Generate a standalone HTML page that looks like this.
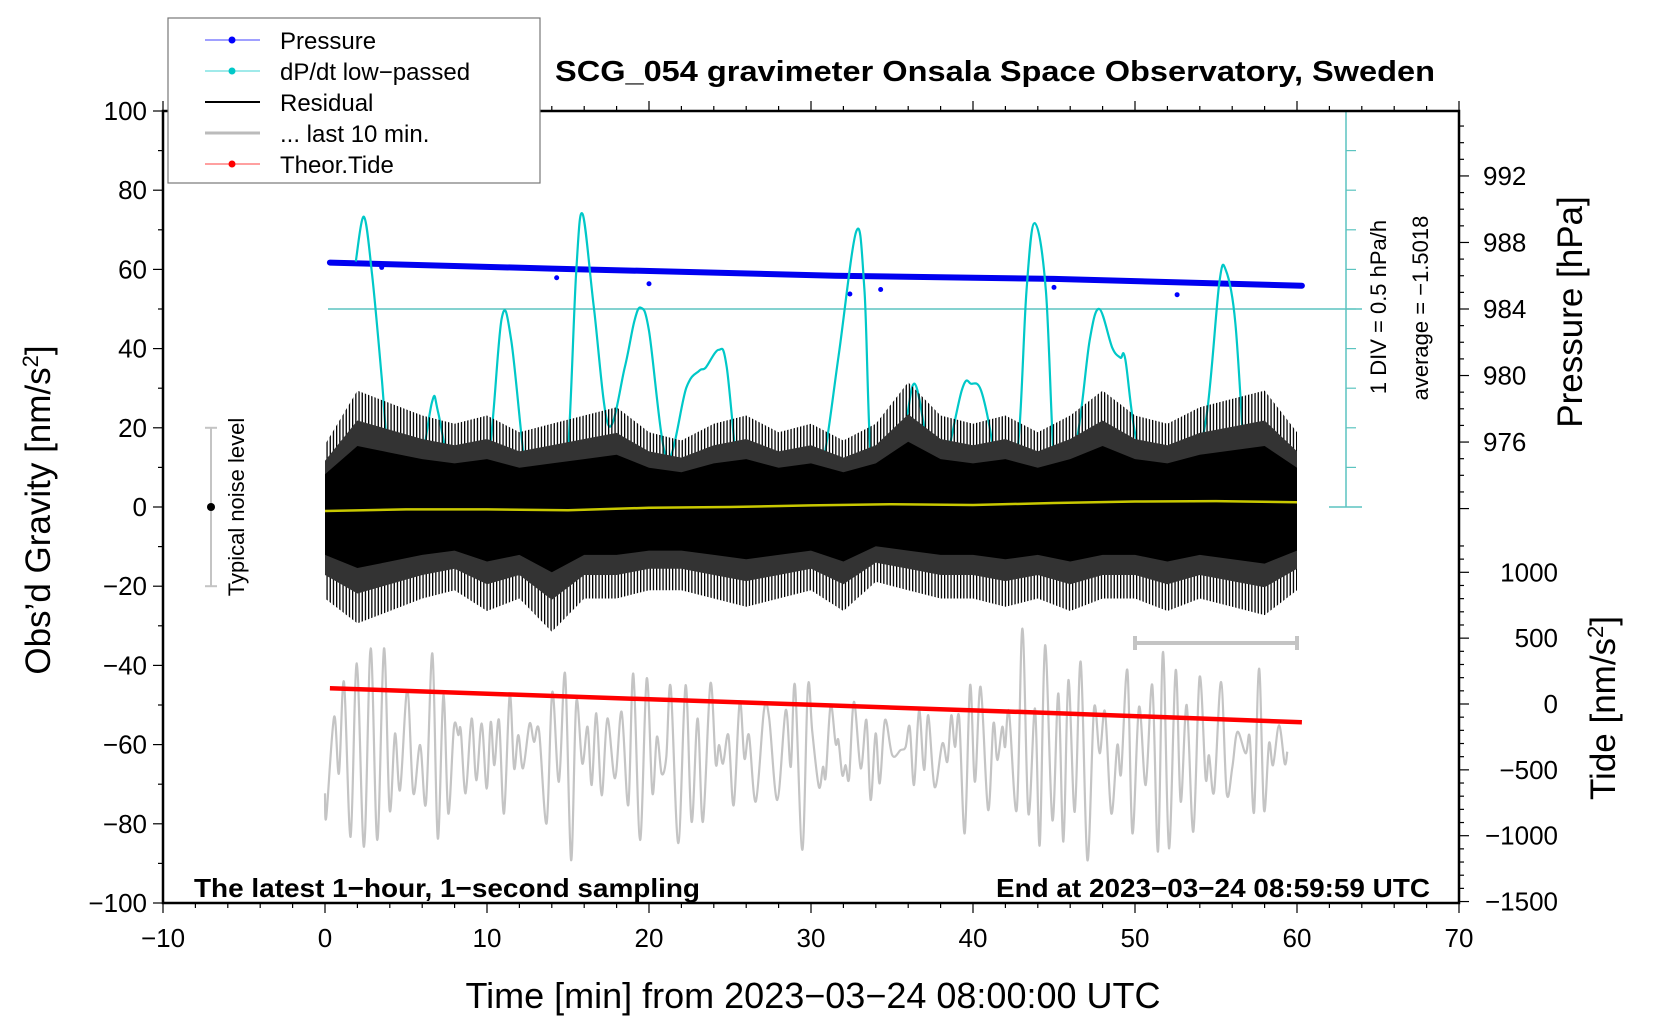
<!DOCTYPE html>
<html><head><meta charset="utf-8"><style>
html,body{margin:0;padding:0;background:#fff}
svg{display:block;font-family:"Liberation Sans",sans-serif}
</style></head><body>
<svg id="chart" width="1660" height="1020" viewBox="0 0 1660 1020" xmlns="http://www.w3.org/2000/svg">
<defs>
<pattern id="stripes" width="3.2" height="10" patternUnits="userSpaceOnUse">
<rect x="0" y="0" width="1.3" height="10" fill="#000"/>
</pattern>
</defs>
<g id="marks"></g>
<g id="axes"></g>
<g id="texts">
<text x="995" y="81" font-size="29" font-weight="bold" text-anchor="middle" textLength="880" lengthAdjust="spacingAndGlyphs">SCG_054 gravimeter Onsala Space Observatory, Sweden</text>
<text x="813" y="1008" font-size="36" text-anchor="middle">Time [min] from 2023−03−24 08:00:00 UTC</text>
<text transform="translate(50,510) rotate(-90)" font-size="35" text-anchor="middle">Obs’d Gravity [nm/s<tspan font-size="22" dy="-12">2</tspan><tspan dy="12">]</tspan></text>
<text transform="translate(1582,312) rotate(-90)" font-size="35" text-anchor="middle">Pressure [hPa]</text>
<text transform="translate(1615,708) rotate(-90)" font-size="35" text-anchor="middle">Tide [nm/s<tspan font-size="22" dy="-12">2</tspan><tspan dy="12">]</tspan></text>
<text transform="translate(1386,307) rotate(-90)" font-size="22" text-anchor="middle">1 DIV = 0.5 hPa/h</text>
<text transform="translate(1428,308) rotate(-90)" font-size="22" text-anchor="middle">average = −1.5018</text>
<text transform="translate(244,507) rotate(-90)" font-size="22" text-anchor="middle">Typical noise level</text>
<text x="194" y="897" font-size="26" font-weight="bold" textLength="506" lengthAdjust="spacingAndGlyphs">The latest 1−hour, 1−second sampling</text>
<text x="1430" y="897" font-size="26" font-weight="bold" text-anchor="end" textLength="434" lengthAdjust="spacingAndGlyphs">End at 2023−03−24 08:59:59 UTC</text>
</g>
<g id="legend">
<rect x="168" y="18" width="372" height="165" fill="#fff" stroke="#777" stroke-width="1.2"/>
<g><line x1="205" y1="40" x2="260" y2="40" stroke="#00f" stroke-width="0.8"/><circle cx="232" cy="40" r="3.5" fill="#00f"/><text x="280" y="49" font-size="24">Pressure</text></g>
<g><line x1="205" y1="71" x2="260" y2="71" stroke="#00c8c8" stroke-width="0.8"/><circle cx="232" cy="71" r="3.5" fill="#00c8c8"/><text x="280" y="80" font-size="24">dP/dt low−passed</text></g>
<g><line x1="205" y1="102" x2="260" y2="102" stroke="#000" stroke-width="2"/><text x="280" y="111" font-size="24">Residual</text></g>
<g><line x1="205" y1="133" x2="260" y2="133" stroke="#bbb" stroke-width="3"/><text x="280" y="142" font-size="24">... last 10 min.</text></g>
<g><line x1="205" y1="164" x2="260" y2="164" stroke="#f00" stroke-width="0.8"/><circle cx="232" cy="164" r="3.5" fill="#f00"/><text x="280" y="173" font-size="24">Theor.Tide</text></g>
</g>
</svg>
<script>
// ---- data ----
const xTicks = [-10,0,10,20,30,40,50,60,70];
const yTicks = [-100,-80,-60,-40,-20,0,20,40,60,80,100];
const pTicks = [976,980,984,988,992];
const tideTicks = [-1500,-1000,-500,0,500,1000];
const pressT = [0.3,14,31.5,45,60.3];
const pressV = [986.79,986.43,986.0,985.81,985.40];
const pressOutT = [14.3,20.0,32.4,34.3,52.6,45.0,3.5];
const pressOutV = [985.88,985.52,984.9,985.17,984.86,985.3,986.5];
const dpT = [1.9,2.4,2.9,3.5,4.1,5.0,5.7,6.6,7.0,8.1,9.0,10.1,10.9,11.5,12.4,13.0,14.0,14.9,15.5,15.9,16.6,17.5,18.5,19.1,19.5,20.0,21.1,22.3,23.1,23.5,24.3,24.8,25.7,26.5,27.3,27.9,28.9,30.0,30.7,31.7,32.8,33.3,33.9,35.6,36.4,37.3,37.9,39.3,39.9,40.5,41.2,41.5,42.7,43.3,43.8,44.5,45.2,46.4,47.2,47.8,48.6,49.1,49.4,50.1,51.5,53.3,54.4,55.2,55.6,56.2,56.8];
const dpV = [62,73.3,58.9,32.7,4.2,0,4.2,26.4,23.6,0.9,3,12.5,47.5,42,8.4,2.4,2,8.4,58.9,74,50.3,20.6,35.2,47,50.3,44.5,12.2,30.1,34.4,35.2,39.7,35.2,1.6,5,11,13,6.7,8,10,38,69.7,54.6,4.2,16.8,31.1,12.5,4.2,29.4,31.1,29.4,16,1.6,12.5,54.6,71.7,54.6,1.6,16.8,42,50,40.2,37.7,37.3,16.8,3,6.7,22.6,56.4,59.9,46.3,7.4];
const resT = [0,2,4,6,8,10,12,14,16,18,20,22,24,26,28,30,32,34,36,38,40,42,44,46,48,50,52,54,56,58,60];
const resUpper = [15,28,25,22,20,22,18,20,22,24,18,16,20,22,18,20,16,20,30,22,20,22,18,22,28,22,20,24,26,28,18];
const resLower = [-22,-28,-25,-22,-20,-25,-22,-30,-22,-22,-20,-20,-22,-24,-22,-20,-25,-18,-20,-22,-22,-24,-22,-25,-22,-22,-25,-22,-24,-26,-20];
const yelT = [0,5,10,15,20,25,30,35,40,45,50,55,60];
const yelV = [-1,-0.6,-0.6,-0.8,-0.2,0,0.4,0.7,0.5,1,1.4,1.5,1.2];
const grayT = [0.0,0.08,0.56,0.86,1.17,1.58,1.96,2.41,2.82,3.23,
3.64,3.99,4.32,4.63,5.08,5.45,5.87,6.23,6.63,6.96,
7.31,7.61,7.96,8.23,8.38,8.68,9.05,9.34,9.67,9.98,
10.23,10.45,10.74,11.05,11.40,11.67,11.93,12.22,12.63,12.90,
13.21,13.68,14.03,14.44,14.82,15.19,15.51,15.88,16.21,16.46,
16.75,17.08,17.43,17.90,18.31,18.72,19.03,19.45,19.86,20.21,
20.49,20.78,21.07,21.34,21.81,22.26,22.63,23.00,23.33,23.79,
24.12,24.32,24.57,24.90,25.23,25.60,25.89,26.17,26.59,27.10,
27.41,27.92,28.44,28.75,29.01,29.46,29.81,30.08,30.49,30.74,
30.91,31.21,31.52,31.69,31.93,32.14,32.35,32.65,33.07,33.42,
33.68,33.99,34.24,34.57,35.02,35.53,35.84,36.09,36.36,36.67,
36.98,37.24,37.63,38.11,38.42,38.66,38.89,39.14,39.49,39.82,
40.12,40.47,40.93,41.26,41.50,41.81,41.98,42.22,42.70,43.05,
43.42,43.83,44.12,44.45,44.90,45.27,45.58,45.89,46.28,46.65,
47.06,47.47,47.82,48.15,48.54,48.91,49.14,49.53,49.84,50.25,
50.66,51.07,51.42,51.73,52.10,52.51,52.82,53.19,53.60,53.99,
54.36,54.57,54.88,55.31,55.66,56.01,56.32,56.83,57.08,57.35,
57.66,57.96,58.27,58.52,58.89,59.24,59.40];
const grayV = [-72.3,-78.2,-53.0,-67.3,-44.2,-83.3,-39.5,-85.8,-35.7,-84.1,
-35.7,-76.5,-57.2,-71.5,-46.3,-72.3,-60.1,-74.9,-37.0,-83.7,
-47.5,-77.4,-55.5,-57.6,-56.4,-72.3,-53.4,-69.0,-54.7,-71.1,
-54.3,-65.2,-53.8,-77.4,-47.5,-66.0,-57.6,-66.0,-54.7,-59.3,
-56.4,-79.9,-46.7,-69.4,-42.1,-89.2,-49.2,-64.8,-55.5,-70.2,
-52.1,-72.8,-53.4,-68.5,-51.7,-75.3,-42.1,-84.1,-43.3,-72.3,
-58.0,-67.3,-63.1,-45.4,-84.9,-45.0,-79.5,-53.4,-79.5,-44.6,
-64.8,-60.1,-64.8,-57.6,-75.3,-49.2,-63.5,-57.6,-74.4,-51.3,
-53.0,-74.0,-51.3,-65.6,-45.0,-86.6,-45.4,-56.8,-70.7,-65.6,
-68.1,-50.0,-59.7,-58.9,-67.7,-65.2,-68.5,-49.2,-66.0,-53.8,
-74.0,-57.2,-69.8,-53.8,-62.7,-61.4,-60.6,-55.5,-70.2,-51.3,
-66.4,-52.6,-70.7,-59.7,-64.3,-52.6,-60.6,-53.0,-82.4,-45.0,
-69.4,-45.4,-76.5,-54.7,-63.9,-55.5,-60.6,-51.7,-76.5,-30.7,
-77.4,-50.9,-85.4,-34.9,-79.1,-47.1,-84.5,-43.7,-77.0,-39.1,
-89.2,-50.9,-62.2,-51.7,-77.4,-60.1,-67.3,-41.2,-82.4,-50.5,
-70.2,-45.0,-87.0,-36.6,-86.2,-41.2,-74.4,-50.0,-82.0,-42.9,
-68.5,-62.7,-71.9,-44.2,-72.3,-65.6,-56.8,-62.2,-58.0,-77.0,
-40.8,-76.5,-59.7,-65.2,-55.1,-64.8,-61.8];
const tideT = [0.3,15,30,45,60.3];
const tideV = [120,57,-6,-69,-139];

// ---- scales ----
const X = t => 325 + t*16.2;
const G = g => 903 - (g+100)*3.96;
const P = p => G(50 + (p-984)*4.2);
const TD = v => 704 - v*0.1317;

const NS = 'http://www.w3.org/2000/svg';
const marks = document.getElementById('marks');
const axes = document.getElementById('axes');
function mk(parent, tag, attrs){ const e=document.createElementNS(NS,tag); for(const k in attrs) e.setAttribute(k,attrs[k]); parent.appendChild(e); return e; }
function line(parent,x1,y1,x2,y2,stroke,w){ return mk(parent,'line',{x1,y1,x2,y2,stroke,'stroke-width':w}); }
function smooth(xs, ys){
  let s='M'+xs[0].toFixed(1)+' '+ys[0].toFixed(1);
  for(let i=0;i<xs.length-1;i++){
    const x0=xs[Math.max(i-1,0)], y0=ys[Math.max(i-1,0)], x1=xs[i], y1=ys[i], x2=xs[i+1], y2=ys[i+1];
    const x3=xs[Math.min(i+2,xs.length-1)], y3=ys[Math.min(i+2,xs.length-1)];
    s+=' C'+(x1+(x2-x0)/6).toFixed(1)+' '+(y1+(y2-y0)/6).toFixed(1)+' '+(x2-(x3-x1)/6).toFixed(1)+' '+(y2-(y3-y1)/6).toFixed(1)+' '+x2.toFixed(1)+' '+y2.toFixed(1);
  }
  return s;
}

let d = pressT.map((t,i)=>(i?'L':'M')+X(t).toFixed(1)+' '+P(pressV[i]).toFixed(1)).join(' ');
let e = mk(marks,'path',{d,fill:'none',stroke:'#0000f0','stroke-width':6,'stroke-linecap':'round'});


pressOutT.forEach((t,i)=>{
  const c = mk(marks,'circle',{cx:X(t),cy:P(pressOutV[i]),r:2.5,fill:'#00f'});
  
  
});

e = line(marks, X(0)+3, G(50), 1362, G(50), '#5cc4c0', 1.5);


const sc = mk(marks,'g',{});


line(sc,1346,G(100),1346,G(0),'#5cc4c0',1.5);
line(sc,1329,G(100),1362,G(100),'#5cc4c0',1.5);
line(sc,1329,G(0),1362,G(0),'#5cc4c0',1.5);
for(let g=10; g<100; g+=10) line(sc,1346,G(g),1356,G(g),'#5cc4c0',1.2);

e = mk(marks,'path',{d:smooth(dpT.map(X),dpV.map(G)),fill:'none',stroke:'#00c8c8','stroke-width':2.2});



function band(up, lo, k){
  const top = resT.map((t,i)=>X(t).toFixed(1)+' '+G(up[i]*k).toFixed(1));
  const bot = resT.map((t,i)=>X(t).toFixed(1)+' '+G(lo[i]*k).toFixed(1)).reverse();
  return 'M'+top.join(' L')+' L'+bot.join(' L')+' Z';
}
e = mk(marks,'path',{d:band(resUpper,resLower,1.05),fill:'url(#stripes)'});


e = mk(marks,'path',{d:band(resUpper,resLower,0.78),fill:'#333'});


e = mk(marks,'path',{d:band(resUpper,resLower,0.55),fill:'#000'});



e = mk(marks,'polyline',{points:yelT.map((t,i)=>X(t).toFixed(1)+','+G(yelV[i]).toFixed(1)).join(' '),fill:'none',stroke:'#c8c800','stroke-width':2.5});



e = mk(marks,'path',{d:smooth(grayT.map(X),grayV.map(G)),fill:'none',stroke:'#c4c4c4','stroke-width':2.2});


const br = mk(marks,'g',{});


line(br,X(50),643,X(60),643,'#c4c4c4',4);
line(br,X(50),636,X(50),650,'#c4c4c4',4);
line(br,X(60),636,X(60),650,'#c4c4c4',4);

e = mk(marks,'polyline',{points:tideT.map((t,i)=>X(t).toFixed(1)+','+TD(tideV[i]).toFixed(1)).join(' '),fill:'none',stroke:'#f00','stroke-width':4.5});



const nb = mk(marks,'g',{});


line(nb,211,G(20),211,G(-20),'#c4c4c4',2);
line(nb,205,G(20),217,G(20),'#c4c4c4',2);
line(nb,205,G(-20),217,G(-20),'#c4c4c4',2);
mk(nb,'circle',{cx:211,cy:G(0),r:4,fill:'#000'});

e = mk(axes,'rect',{x:163,y:111,width:1296,height:792,fill:'none',stroke:'#000','stroke-width':2.5});


for(let t=-10;t<=70;t+=2){
  const major = t%10===0;
  line(axes,X(t),903,X(t),903+(major?10:5),'#000',1.2);
  line(axes,X(t),111,X(t),111-(major?10:5),'#000',1.2);
}
xTicks.forEach(t=>{
  const tx = mk(axes,'text',{x:X(t),y:947,'font-size':26,'text-anchor':'middle'});
  tx.textContent = t<0 ? '−'+Math.abs(t) : String(t);
  
  
});
for(let g=-100;g<=100;g+=10){
  const major = g%20===0;
  line(axes,163-(major?10:5),G(g),163,G(g),'#000',1.2);
}
yTicks.forEach(g=>{
  const tx = mk(axes,'text',{x:147,y:G(g)+9,'font-size':26,'text-anchor':'end'});
  tx.textContent = g<0 ? '−'+Math.abs(g) : String(g);
  
  
});
for(let p=972;p<=995;p++){
  const major = p%4===0;
  line(axes,1459,P(p),1459+(major?10:5),P(p),'#000',1.2);
}
pTicks.forEach(p=>{
  const tx = mk(axes,'text',{x:1483,y:P(p)+9,'font-size':26});
  tx.textContent = String(p);
  
  
});
for(let v=-1500;v<=1200;v+=100){
  const major = v%500===0;
  line(axes,1459,TD(v),1459+(major?10:5),TD(v),'#000',1.2);
}
tideTicks.forEach(v=>{
  const tx = mk(axes,'text',{x:1558,y:TD(v)+9,'font-size':26,'text-anchor':'end'});
  tx.textContent = v<0 ? '−'+Math.abs(v) : String(v);
  
  
});
document.getElementById('chart').appendChild(document.getElementById('legend'));
</script>
</body></html>
